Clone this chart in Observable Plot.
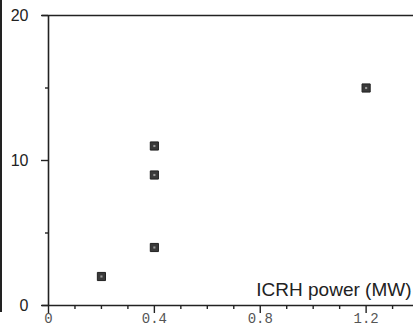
<!DOCTYPE html>
<html>
<head>
<meta charset="utf-8">
<script src="https://cdn.jsdelivr.net/npm/d3@7"></script>
<script src="https://cdn.jsdelivr.net/npm/@observablehq/plot@0.6"></script>
<style>
  html, body { margin: 0; padding: 0; background: #fff; }
  #wrap { position: relative; width: 413px; height: 329px; overflow: hidden; }
  #edge { position: absolute; left: 0; top: 0; width: 2px; height: 312px; background: #222; }
</style>
</head>
<body>
<div id="wrap"><div id="edge"></div></div>
<script>
// ICRH power (MW) vs value
const power = [0.2, 0.4, 0.4, 0.4, 1.2];
const values = [2, 4, 9, 11, 15];
const xMajorTicks = [0, 0.4, 0.8, 1.2];
const xTickLabels = ["0", "0.4", "0.8", "1.2"];
const xMinorTicks = [0.1, 0.2, 0.3, 0.5, 0.6, 0.7, 0.9, 1.0, 1.1, 1.3];
const yMajorTicks = [0, 10, 20];
const yMinorTicks = [5, 15];
const xLabel = "ICRH power (MW)";

const data = power.map((p, i) => ({power: p, value: values[i]}));

const chart = Plot.plot({
  width: 413,
  height: 329,
  marginLeft: 48,
  marginRight: 0,
  marginTop: 15,
  marginBottom: 24,
  style: {background: "transparent", overflow: "visible"},
  x: {domain: [0, 1.379]},
  y: {domain: [0, 20]},
  marks: [
    Plot.ruleY([0, 20], {x1: -0.023, x2: 1.379, stroke: "#222", strokeWidth: 1.6}),
    Plot.ruleX([0], {stroke: "#222", strokeWidth: 1.6}),
    Plot.axisX({ticks: xMajorTicks, tickSize: 8, tickPadding: 0, stroke: "#222", strokeWidth: 1.4,
      tickFormat: (d, i) => xTickLabels[i], fontFamily: "Liberation Mono", fontSize: 14, fill: "#555", label: null}),
    Plot.axisX({ticks: xMinorTicks, tickSize: 4, text: null, stroke: "#222", strokeWidth: 1.4, label: null}),
    Plot.axisY({ticks: yMajorTicks, tickSize: 7, tickPadding: 13, stroke: "#222", strokeWidth: 1.4,
      fontFamily: "Liberation Sans", fontSize: 16, fill: "#222", label: null}),
    Plot.axisY({ticks: yMinorTicks, tickSize: 3, text: null, stroke: "#222", strokeWidth: 1.4, label: null}),
    Plot.dot(data, {x: "power", y: "value", symbol: "square", r: 4.6, fill: "#3a3a3a", stroke: "#222", strokeWidth: 1}),
    Plot.dot(data, {x: "power", y: "value", symbol: "square", r: 1.2, fill: "#999"}),
    Plot.text([xLabel], {frameAnchor: "bottom-right", dx: -2, dy: -10, text: d => d,
      fontFamily: "Liberation Sans", fontSize: 19, fill: "#222", textAnchor: "end", lineAnchor: "bottom"})
  ]
});
document.getElementById("wrap").appendChild(chart);
chart.style.position = "absolute";
chart.style.left = "0";
chart.style.top = "0";
</script>
</body>
</html>
